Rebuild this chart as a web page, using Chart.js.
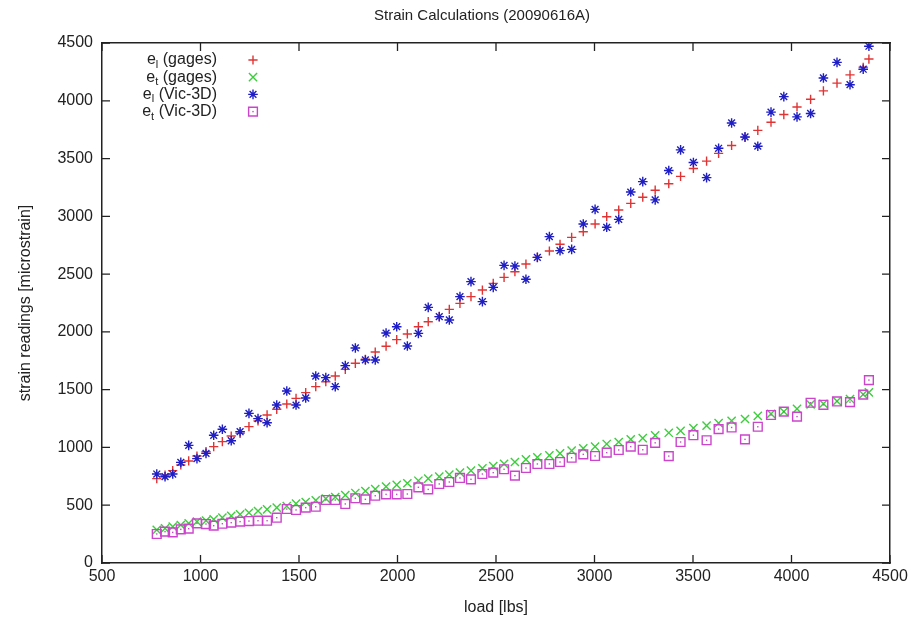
<!DOCTYPE html>
<html><head><meta charset="utf-8">
<script src="https://cdn.jsdelivr.net/npm/chart.js@4/dist/chart.umd.min.js"></script>
<style>html,body{margin:0;padding:0;background:#fff}canvas{display:block}</style>
</head><body>
<canvas id="c" width="919" height="620"></canvas>
<script>
// ---- data ----
const loads = [778,820,859,900,940,982,1028,1067,1111,1156,1201,1246,1292,1338,1387,1438,1485,1534,1585,1636,1684,1735,1786,1837,1887,1942,1996,2050,2106,2156,2212,2263,2317,2373,2431,2486,2541,2596,2652,2710,2771,2825,2884,2943,3003,3062,3123,3184,3245,3308,3377,3437,3502,3569,3630,3696,3764,3829,3896,3961,4028,4097,4162,4231,4297,4364,4393];
const elGages = [730,760,799,848,883,926,963,1007,1050,1099,1122,1180,1230,1281,1330,1376,1425,1474,1526,1569,1618,1676,1728,1763,1826,1876,1933,1982,2045,2088,2132,2195,2247,2305,2362,2420,2472,2521,2587,2645,2700,2758,2818,2867,2934,2997,3055,3112,3165,3226,3282,3346,3414,3478,3545,3613,3683,3744,3814,3881,3946,4013,4086,4153,4224,4290,4361];
const etGages = [286,300,314,329,343,358,366,378,392,407,421,435,450,464,479,493,513,528,542,557,571,588,606,623,640,661,676,690,712,730,747,764,782,799,819,839,857,874,897,914,932,949,972,992,1007,1030,1047,1070,1080,1105,1127,1144,1168,1188,1211,1231,1246,1273,1290,1310,1334,1372,1378,1401,1419,1460,1477];
const elVic = [770,747,770,871,1018,903,949,1105,1157,1058,1136,1295,1249,1214,1367,1488,1367,1428,1618,1604,1526,1708,1861,1757,1757,1990,2045,1878,1987,2212,2132,2103,2305,2435,2262,2385,2576,2570,2455,2645,2824,2703,2714,2934,3060,2905,2974,3210,3300,3142,3396,3575,3466,3335,3589,3808,3688,3607,3902,4036,3861,3890,4197,4332,4139,4273,4472];
const etVic = [251,271,265,291,297,343,337,323,340,349,358,363,366,366,392,467,459,479,487,545,545,511,560,551,582,594,594,597,655,637,684,701,736,724,770,782,811,756,822,857,857,874,911,940,926,955,978,1007,980,1040,925,1047,1106,1062,1159,1173,1070,1179,1281,1310,1267,1387,1369,1398,1392,1457,1583];
const xTickValues = [500,1000,1500,2000,2500,3000,3500,4000,4500];
const yTickValues = [0,500,1000,1500,2000,2500,3000,3500,4000,4500];
const seriesNames = [["l"," (gages)"],["t"," (gages)"],["l"," (Vic-3D)"],["t"," (Vic-3D)"]];
const chartTitle = "Strain Calculations (20090616A)";
const xTitle = "load [lbs]";
const yTitle = "strain readings [microstrain]";

// ---- styles ----
const FONT = '"Liberation Sans", Arial, Helvetica, sans-serif';
const AXIS = '#222222';
const styles = [
  {color:'#e03434', pointStyle:'cross', radius:4.6, order:4},
  {color:'#3fcc3f', pointStyle:'crossRot', radius:5.8, order:3},
  {color:'#1e1ec4', pointStyle:'star', radius:4.8, order:2},
  {color:'#cc44cc', pointStyle:'rect', radius:6.2, order:1}
];
const series = [elGages, etGages, elVic, etVic];
const PW = 1.4;

Chart.defaults.font.family = FONT;

const datasets = series.map((vals, i) => ({
  label: 'e' + seriesNames[i][0] + seriesNames[i][1],
  data: loads.map((x, k) => ({x: x, y: vals[k]})),
  showLine: false,
  pointStyle: styles[i].pointStyle,
  pointRadius: styles[i].radius,
  pointHoverRadius: styles[i].radius,
  pointBorderWidth: PW,
  pointBorderColor: styles[i].color,
  pointBackgroundColor: 'rgba(0,0,0,0)',
  borderColor: styles[i].color,
  backgroundColor: 'rgba(0,0,0,0)',
  order: styles[i].order
}));

function setTicks(values) {
  return function(scale) { scale.ticks = values.map(v => ({value: v})); };
}
const plainLabel = v => String(v);
const gridOpts = {display: true, drawOnChartArea: false, drawTicks: false};
const borderOpts = {display: true, color: AXIS, width: 1.5};

const inwardTicks = {
  id: 'inwardTicks',
  afterDraw(chart) {
    const {ctx, chartArea: a, scales} = chart;
    const L = 8;
    ctx.save();
    ctx.strokeStyle = AXIS; ctx.lineWidth = 1.3;
    ctx.beginPath();
    scales.x.ticks.forEach(t => { const p = scales.x.getPixelForValue(t.value); ctx.moveTo(p, a.bottom); ctx.lineTo(p, a.bottom - L); });
    scales.x2.ticks.forEach(t => { const p = scales.x2.getPixelForValue(t.value); ctx.moveTo(p, a.top); ctx.lineTo(p, a.top + L); });
    scales.y.ticks.forEach(t => { const p = scales.y.getPixelForValue(t.value); ctx.moveTo(a.left, p); ctx.lineTo(a.left + L, p); });
    scales.y2.ticks.forEach(t => { const p = scales.y2.getPixelForValue(t.value); ctx.moveTo(a.right, p); ctx.lineTo(a.right - L, p); });
    ctx.stroke();
    ctx.restore();
  }
};

const titlePlugin = {
  id: 'gpTitle',
  afterDraw(chart) {
    const ctx = chart.ctx;
    ctx.save();
    ctx.fillStyle = AXIS;
    ctx.font = '15px ' + FONT;
    ctx.textAlign = 'center'; ctx.textBaseline = 'middle';
    ctx.fillText(chartTitle, 482, 16);
    ctx.restore();
  }
};

const centerDots = {
  id: 'centerDots',
  afterDatasetsDraw(chart) {
    const ctx = chart.ctx;
    const meta = chart.getDatasetMeta(3);
    ctx.save();
    ctx.fillStyle = styles[3].color;
    meta.data.forEach(el => { ctx.fillRect(el.x - 0.7, el.y - 0.7, 1.4, 1.4); });
    ctx.restore();
  }
};

const gpLegend = {
  id: 'gpLegend',
  afterDraw(chart) {
    const ctx = chart.ctx;
    const xr = 217, xm = 253, y0 = 60, dy = 17.2;
    ctx.save();
    seriesNames.forEach((nm, i) => {
      const y = y0 + i * dy;
      ctx.fillStyle = AXIS;
      ctx.textAlign = 'left'; ctx.textBaseline = 'middle';
      ctx.font = '16px ' + FONT;
      const wRest = ctx.measureText(nm[1]).width;
      const wE = ctx.measureText('e').width;
      ctx.font = '11px ' + FONT;
      const wSub = ctx.measureText(nm[0]).width;
      let x = xr - wRest - wSub - wE;
      ctx.font = '16px ' + FONT;
      ctx.fillText('e', x, y); x += wE;
      ctx.font = '11px ' + FONT;
      ctx.fillText(nm[0], x, y + 5); x += wSub;
      ctx.font = '16px ' + FONT;
      ctx.fillText(nm[1], x, y);
      ctx.strokeStyle = styles[i].color;
      ctx.fillStyle = 'rgba(0,0,0,0)';
      ctx.lineWidth = PW;
      if (Chart.helpers && Chart.helpers.drawPoint) {
        Chart.helpers.drawPoint(ctx, {pointStyle: styles[i].pointStyle, radius: styles[i].radius, rotation: 0, borderWidth: PW}, xm, y);
      }
      if (i === 3) { ctx.fillStyle = styles[3].color; ctx.fillRect(xm - 0.7, y - 0.7, 1.4, 1.4); }
    });
    ctx.restore();
  }
};

new Chart(document.getElementById('c'), {
  type: 'scatter',
  data: {datasets},
  options: {
    responsive: false,
    animation: false,
    events: [],
    layout: {padding: 0},
    plugins: {legend: {display: false}, title: {display: false}, tooltip: {enabled: false}},
    scales: {
      x: {
        type: 'linear', position: 'bottom', min: 500, max: 4500,
        afterBuildTicks: setTicks(xTickValues),
        afterFit: s => { s.height = 57; },
        grid: gridOpts, border: borderOpts,
        ticks: {color: AXIS, font: {size: 16}, padding: 4, maxRotation: 0, autoSkip: false, callback: plainLabel},
        title: {display: true, text: xTitle, color: AXIS, font: {size: 16}, padding: {top: 0, bottom: 3}}
      },
      x2: {
        type: 'linear', position: 'top', min: 500, max: 4500,
        afterBuildTicks: setTicks(xTickValues),
        afterFit: s => { s.height = 43; },
        grid: gridOpts, border: borderOpts,
        ticks: {display: false}
      },
      y: {
        type: 'linear', position: 'left', min: 0, max: 4500,
        afterBuildTicks: setTicks(yTickValues),
        afterFit: s => { s.width = 102; },
        grid: gridOpts, border: borderOpts,
        ticks: {color: AXIS, font: {size: 16}, padding: 9, autoSkip: false, callback: plainLabel},
        title: {display: true, text: yTitle, color: AXIS, font: {size: 16}, padding: {top: 16, bottom: 0}}
      },
      y2: {
        type: 'linear', position: 'right', min: 0, max: 4500,
        afterBuildTicks: setTicks(yTickValues),
        afterFit: s => { s.width = 29; },
        grid: gridOpts, border: borderOpts,
        ticks: {display: false}
      }
    }
  },
  plugins: [inwardTicks, centerDots, titlePlugin, gpLegend]
});
</script>
</body></html>
